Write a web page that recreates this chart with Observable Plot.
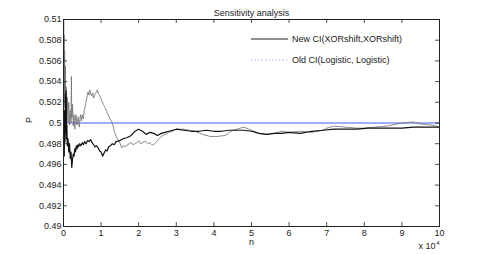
<!DOCTYPE html>
<html>
<head>
<meta charset="utf-8">
<script src="https://cdn.jsdelivr.net/npm/d3@7"></script>
<script src="https://cdn.jsdelivr.net/npm/@observablehq/plot@0.6"></script>
<style>
  html, body { margin: 0; padding: 0; background: #fff; }
  #wrap { position: relative; width: 485px; height: 254px; font-family: "Liberation Sans", Arial, sans-serif; }
  .leg { position: absolute; font-size: 9px; color: #222; line-height: 10px; white-space: nowrap; }
  .legline { position: absolute; }
</style>
</head>
<body>
<div id="wrap"></div>
<script>
// n in units of 10^4
const titleText = "Sensitivity analysis";
const xLabel = "n";
const yLabel = "P";
const xExpBase = "x 10";
const xExpPow = "4";
const seriesNames = ["New CI(XORshift,XORshift)", "Old CI(Logistic, Logistic)"];
const xTicks = [0,1,2,3,4,5,6,7,8,9,10];
const yTicks = [0.49,0.492,0.494,0.496,0.498,0.5,0.502,0.504,0.506,0.508,0.51];
const refLevel = [0.5];

const newN = [0,0.01,0.02,0.03,0.04,0.05,0.06,0.07,0.08,0.09,0.10,0.12,0.14,0.16,0.18,0.20,0.22,0.24,0.26,0.28,0.30,0.32,0.34,0.36,0.38,0.40,0.43,0.46,0.50,0.53,0.56,0.60,0.64,0.68,0.72,0.76,0.80,0.84,0.88,0.92,0.96,1.00,1.04,1.08,1.12,1.16,1.20,1.25,1.30,1.35,1.40,1.50,1.60,1.70,1.80,1.90,2.00,2.10,2.20,2.30,2.40,2.50,2.60,2.70,2.80,2.90,3.00,3.20,3.40,3.60,3.80,4.00,4.20,4.40,4.60,4.80,5.00,5.20,5.40,5.60,5.80,6.00,6.30,6.60,6.90,7.20,7.50,7.80,8.10,8.40,8.70,9.00,9.30,9.60,10.0];
const newP = [0.4985,0.5005,0.4968,0.5012,0.4982,0.5028,0.4990,0.5031,0.4985,0.4998,0.4978,0.4985,0.4972,0.4980,0.4966,0.4972,0.4957,0.4965,0.4970,0.4968,0.4975,0.4972,0.4978,0.4975,0.4979,0.4977,0.4980,0.4978,0.4981,0.4979,0.4982,0.4980,0.4983,0.4982,0.4984,0.4981,0.4979,0.4977,0.4978,0.4976,0.4973,0.4972,0.4968,0.4971,0.4974,0.4973,0.4977,0.4978,0.4980,0.4979,0.4982,0.4983,0.4985,0.4986,0.4988,0.4992,0.4994,0.4992,0.4989,0.4991,0.4990,0.4988,0.4990,0.4991,0.4992,0.4993,0.4994,0.4993,0.4992,0.4992,0.4993,0.4992,0.4992,0.4993,0.4993,0.4993,0.4992,0.4990,0.4989,0.4990,0.4990,0.4991,0.4990,0.4992,0.4993,0.4994,0.4994,0.4994,0.4995,0.4995,0.4995,0.4995,0.4996,0.4996,0.4996];

const oldN = [0,0.005,0.01,0.015,0.02,0.03,0.04,0.05,0.06,0.07,0.08,0.10,0.12,0.14,0.16,0.18,0.20,0.21,0.22,0.24,0.26,0.28,0.30,0.33,0.36,0.39,0.42,0.45,0.48,0.50,0.53,0.55,0.58,0.60,0.63,0.65,0.68,0.70,0.73,0.75,0.78,0.80,0.83,0.86,0.90,0.93,0.96,1.00,1.05,1.10,1.15,1.20,1.25,1.30,1.35,1.40,1.45,1.50,1.55,1.60,1.65,1.70,1.75,1.80,1.85,1.90,1.95,2.00,2.05,2.10,2.15,2.20,2.25,2.30,2.35,2.40,2.50,2.60,2.70,2.80,2.90,3.00,3.20,3.50,3.70,3.90,4.10,4.30,4.50,4.70,4.80,5.00,5.20,5.40,5.60,5.80,6.00,6.30,6.60,6.90,7.00,7.20,7.50,7.80,8.00,8.30,8.60,9.00,9.30,9.50,9.80,10.0];
const oldP = [0.5000,0.5100,0.5035,0.5085,0.5020,0.5070,0.5015,0.5055,0.5005,0.5035,0.4995,0.5025,0.5000,0.5020,0.4998,0.5012,0.5000,0.5045,0.5005,0.5018,0.4997,0.5008,0.4994,0.5008,0.4998,0.5006,0.4996,0.5008,0.5002,0.5008,0.5004,0.5012,0.5016,0.5021,0.5026,0.5030,0.5027,0.5032,0.5028,0.5026,0.5029,0.5024,0.5027,0.5029,0.5032,0.5028,0.5027,0.5023,0.5019,0.5015,0.5011,0.5007,0.5003,0.5000,0.4992,0.4987,0.4984,0.4981,0.4976,0.4978,0.4977,0.4979,0.4980,0.4981,0.4979,0.4980,0.4981,0.4983,0.4980,0.4981,0.4982,0.4982,0.4980,0.4981,0.4979,0.4979,0.4983,0.4987,0.4989,0.4991,0.4992,0.4994,0.4994,0.4992,0.4989,0.4987,0.4987,0.4988,0.4993,0.4995,0.4996,0.4993,0.4990,0.4989,0.4990,0.4992,0.4991,0.4992,0.4991,0.4993,0.4995,0.4997,0.4996,0.4995,0.4995,0.4996,0.4997,0.5000,0.5001,0.4999,0.4998,0.4996];

const newData = newN.map((n, i) => ({n, p: newP[i]}));
const oldData = oldN.map((n, i) => ({n, p: oldP[i]}));

const W = 485, H = 254, mL = 63, mR = 46, mT = 19, mB = 28;
const pw = W - mL - mR, ph = H - mT - mB, tk = 4;
const fmt = d => String(+d.toFixed(3));

const chart = Plot.plot({
  width: W, height: H,
  marginLeft: mL, marginRight: mR, marginTop: mT, marginBottom: mB,
  style: {fontFamily: "Liberation Sans, Arial, sans-serif", fontSize: "9px", color: "#222", background: "#fff"},
  x: {domain: [0, 10]},
  y: {domain: [0.49, 0.51]},
  marks: [
    Plot.ruleY(refLevel, {stroke: "#8293ff", strokeWidth: 1.3}),
    Plot.line(oldData, {x: "n", y: "p", stroke: "#6e6e6e", strokeWidth: 0.9, strokeDasharray: "1.5,1"}),
    Plot.line(newData, {x: "n", y: "p", stroke: "#111", strokeWidth: 1.2}),
    Plot.tickY(yTicks, {y: d => d, insetRight: pw - tk, stroke: "#222", strokeWidth: 0.8}),
    Plot.tickY(yTicks, {y: d => d, insetLeft: pw - tk, stroke: "#222", strokeWidth: 0.8}),
    Plot.tickX(xTicks, {x: d => d, insetTop: ph - tk, stroke: "#222", strokeWidth: 0.8}),
    Plot.tickX(xTicks, {x: d => d, insetBottom: ph - tk, stroke: "#222", strokeWidth: 0.8}),
    Plot.frame({stroke: "#222", strokeWidth: 1}),
    Plot.axisY(yTicks, {tickSize: 0, tickPadding: 2, tickFormat: fmt, label: null, fill: "#222"}),
    Plot.axisX(xTicks, {tickSize: 0, tickPadding: 3, tickFormat: d => String(d), label: null, fill: "#222"}),
    Plot.text([titleText], {frameAnchor: "top", dy: -10, fill: "#222"}),
    Plot.text([yLabel], {frameAnchor: "left", dx: -34, rotate: -90, fill: "#222"}),
    Plot.text([xLabel], {frameAnchor: "bottom", dy: 18, fill: "#222"}),
    Plot.text([xExpBase], {frameAnchor: "bottom-right", textAnchor: "end", dx: -4, dy: 22, fill: "#222"}),
    Plot.text([xExpPow], {frameAnchor: "bottom-right", textAnchor: "end", dx: 0, dy: 18, fontSize: 6, fill: "#222"})
  ]
});
const wrap = document.getElementById("wrap");
wrap.appendChild(chart);

// legend
function legendRow(y, name, stroke, dash) {
  const svg = document.createElementNS("http://www.w3.org/2000/svg", "svg");
  svg.setAttribute("width", 37); svg.setAttribute("height", 4);
  svg.setAttribute("class", "legline");
  svg.style.left = "251px"; svg.style.top = (y - 2) + "px";
  const l = document.createElementNS("http://www.w3.org/2000/svg", "line");
  l.setAttribute("x1", 0); l.setAttribute("x2", 37); l.setAttribute("y1", 2); l.setAttribute("y2", 2);
  l.setAttribute("stroke", stroke); l.setAttribute("stroke-width", 1);
  if (dash) l.setAttribute("stroke-dasharray", dash);
  svg.appendChild(l);
  wrap.appendChild(svg);
  const t = document.createElement("div");
  t.className = "leg"; t.textContent = name;
  t.style.left = "292px"; t.style.top = (y - 5) + "px";
  wrap.appendChild(t);
}
legendRow(39, seriesNames[0], "#222", null);
legendRow(60, seriesNames[1], "#aab4ff", "1.5,2");
</script>
</body>
</html>
